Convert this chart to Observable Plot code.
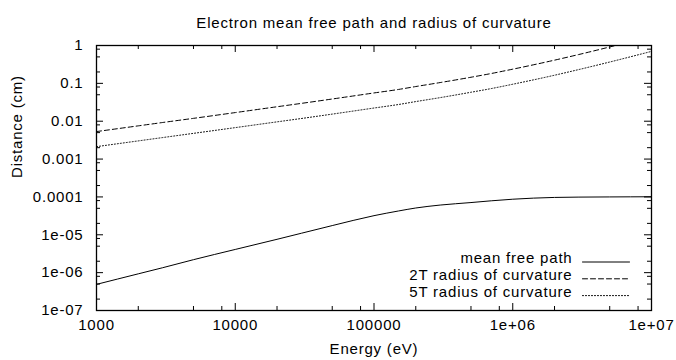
<!DOCTYPE html>
<html>
<head>
<meta charset="utf-8">
<script src="https://cdn.jsdelivr.net/npm/d3@7"></script>
<script src="https://cdn.jsdelivr.net/npm/@observablehq/plot@0.6"></script>
<style>
  html, body { margin: 0; padding: 0; background: white; }
  #chart svg text { letter-spacing: 0.8px; }
</style>
</head>
<body>
<div id="chart"></div>
<script>
// ---- data ----
const energy = [1000, 2000, 3000, 5000, 10000, 20000, 30000, 50000, 100000, 150000, 200000, 300000, 500000, 700000, 1000000, 2000000, 3000000, 5000000, 10000000];
const meanFreePath = [4.9e-7, 9.3e-7, 1.35e-6, 2.2e-6, 4.1e-6, 7.6e-6, 1.1e-5, 1.75e-5, 3.2e-5, 4.25e-5, 5.1e-5, 6.1e-5, 7.1e-5, 7.9e-5, 8.7e-5, 9.7e-5, 9.9e-5, 1.0e-4, 1.01e-4];
const radius2T = [0.00533, 0.00754, 0.00925, 0.0119, 0.0169, 0.0241, 0.0296, 0.0386, 0.0558, 0.069, 0.0824, 0.105, 0.145, 0.182, 0.237, 0.410, 0.579, 0.915, 1.75];
const radius5T = [0.00213, 0.00302, 0.0037, 0.00478, 0.00677, 0.00962, 0.0118, 0.0154, 0.0223, 0.0276, 0.0330, 0.042, 0.0582, 0.0728, 0.0948, 0.164, 0.232, 0.366, 0.700];

const seriesNames = ["mean free path", "2T radius of curvature", "5T radius of curvature"];
const seriesDash = [null, "5,3", "1,2"];

const xMajor = [1000, 10000, 100000, 1000000, 10000000];
const xLabels = ["1000", "10000", "100000", "1e+06", "1e+07"];
const xMinor = [2000, 5000, 8000, 20000, 50000, 80000, 200000, 500000, 800000, 2000000, 5000000, 8000000];
const yMajor = [1, 0.1, 0.01, 0.001, 0.0001, 1e-5, 1e-6, 1e-7];
const yLabels = ["1", "0.1", "0.01", "0.001", "0.0001", "1e-05", "1e-06", "1e-07"];
const yMinor = [0.8, 0.5, 0.2, 0.08, 0.05, 0.02, 0.008, 0.005, 0.002, 0.0008, 0.0005, 0.0002,
                8e-5, 5e-5, 2e-5, 8e-6, 5e-6, 2e-6, 8e-7, 5e-7, 2e-7];

const title = "Electron mean free path and radius of curvature";
const xTitle = "Energy (eV)";
const yTitle = "Distance (cm)";

// ---- build tables ----
const seriesValues = [meanFreePath, radius2T, radius5T];
const xLabelMap = new Map(xMajor.map((v, i) => [v, xLabels[i]]));
const yLabelMap = new Map(yMajor.map((v, i) => [v, yLabels[i]]));

const W = 676, H = 360;
const mL = 96, mR = 25, mT = 45, mB = 50;
const fw = W - mL - mR, fh = H - mT - mB;
const majorLen = 7, minorLen = 4;
const rowGap = 16.8;

const lineShape = {
  draw(context, l) { context.moveTo(0, 0); context.lineTo(0, -l); }
};

const lineMarks = seriesValues.map((vals, s) =>
  Plot.line(energy.map((e, i) => ({e, v: vals[i]})), {
    x: "e", y: "v", stroke: "black", strokeWidth: 1,
    strokeDasharray: seriesDash[s], curve: "monotone-x", clip: true
  })
);

const legendMarks = seriesNames.flatMap((name, s) => [
  Plot.text([name], {
    text: d => d, frameAnchor: "bottom-right", textAnchor: "end",
    dx: -79, dy: -47.5 + s * rowGap, fill: "black"
  }),
  Plot.vector([name], {
    frameAnchor: "bottom-right", dx: -69, dy: -48.5 + s * rowGap,
    length: 47, rotate: 90, anchor: "start", shape: lineShape,
    stroke: "black", strokeWidth: 1, strokeDasharray: seriesDash[s]
  })
]);

const chart = Plot.plot({
  width: W, height: H,
  marginLeft: mL, marginRight: mR, marginTop: mT, marginBottom: mB,
  style: {fontFamily: "'Liberation Sans', Arial, Helvetica, sans-serif", fontSize: "15px", background: "white", color: "black"},
  x: {type: "log", domain: [1000, 10000000]},
  y: {type: "log", domain: [1e-7, 1]},
  marks: [
    // inward ticks on all four sides
    Plot.tickY(yMajor, {y: d => d, insetRight: fw - majorLen, stroke: "black", strokeWidth: 1}),
    Plot.tickY(yMajor, {y: d => d, insetLeft: fw - majorLen, stroke: "black", strokeWidth: 1}),
    Plot.tickY(yMinor, {y: d => d, insetRight: fw - minorLen, stroke: "black", strokeWidth: 1}),
    Plot.tickY(yMinor, {y: d => d, insetLeft: fw - minorLen, stroke: "black", strokeWidth: 1}),
    Plot.tickX(xMajor, {x: d => d, insetTop: fh - majorLen, stroke: "black", strokeWidth: 1}),
    Plot.tickX(xMajor, {x: d => d, insetBottom: fh - majorLen, stroke: "black", strokeWidth: 1}),
    Plot.tickX(xMinor, {x: d => d, insetTop: fh - minorLen, stroke: "black", strokeWidth: 1}),
    Plot.tickX(xMinor, {x: d => d, insetBottom: fh - minorLen, stroke: "black", strokeWidth: 1}),
    Plot.axisX(xMajor, {tickSize: 0, tickPadding: 9, tickFormat: d => xLabelMap.get(d), label: null, fill: "black"}),
    Plot.axisY(yMajor, {tickSize: 0, tickPadding: 13, tickFormat: d => yLabelMap.get(d), label: null, fill: "black"}),
    ...lineMarks,
    ...legendMarks,
    Plot.frame({stroke: "black", strokeWidth: 1.3}),
    Plot.text([title], {text: d => d, frameAnchor: "top", dy: -28, fill: "black"}),
    Plot.text([xTitle], {text: d => d, frameAnchor: "bottom", dy: 43, fill: "black"}),
    Plot.text([yTitle], {text: d => d, frameAnchor: "left", dx: -79, rotate: -90, fill: "black"})
  ]
});
document.getElementById("chart").appendChild(chart);
</script>
</body>
</html>
